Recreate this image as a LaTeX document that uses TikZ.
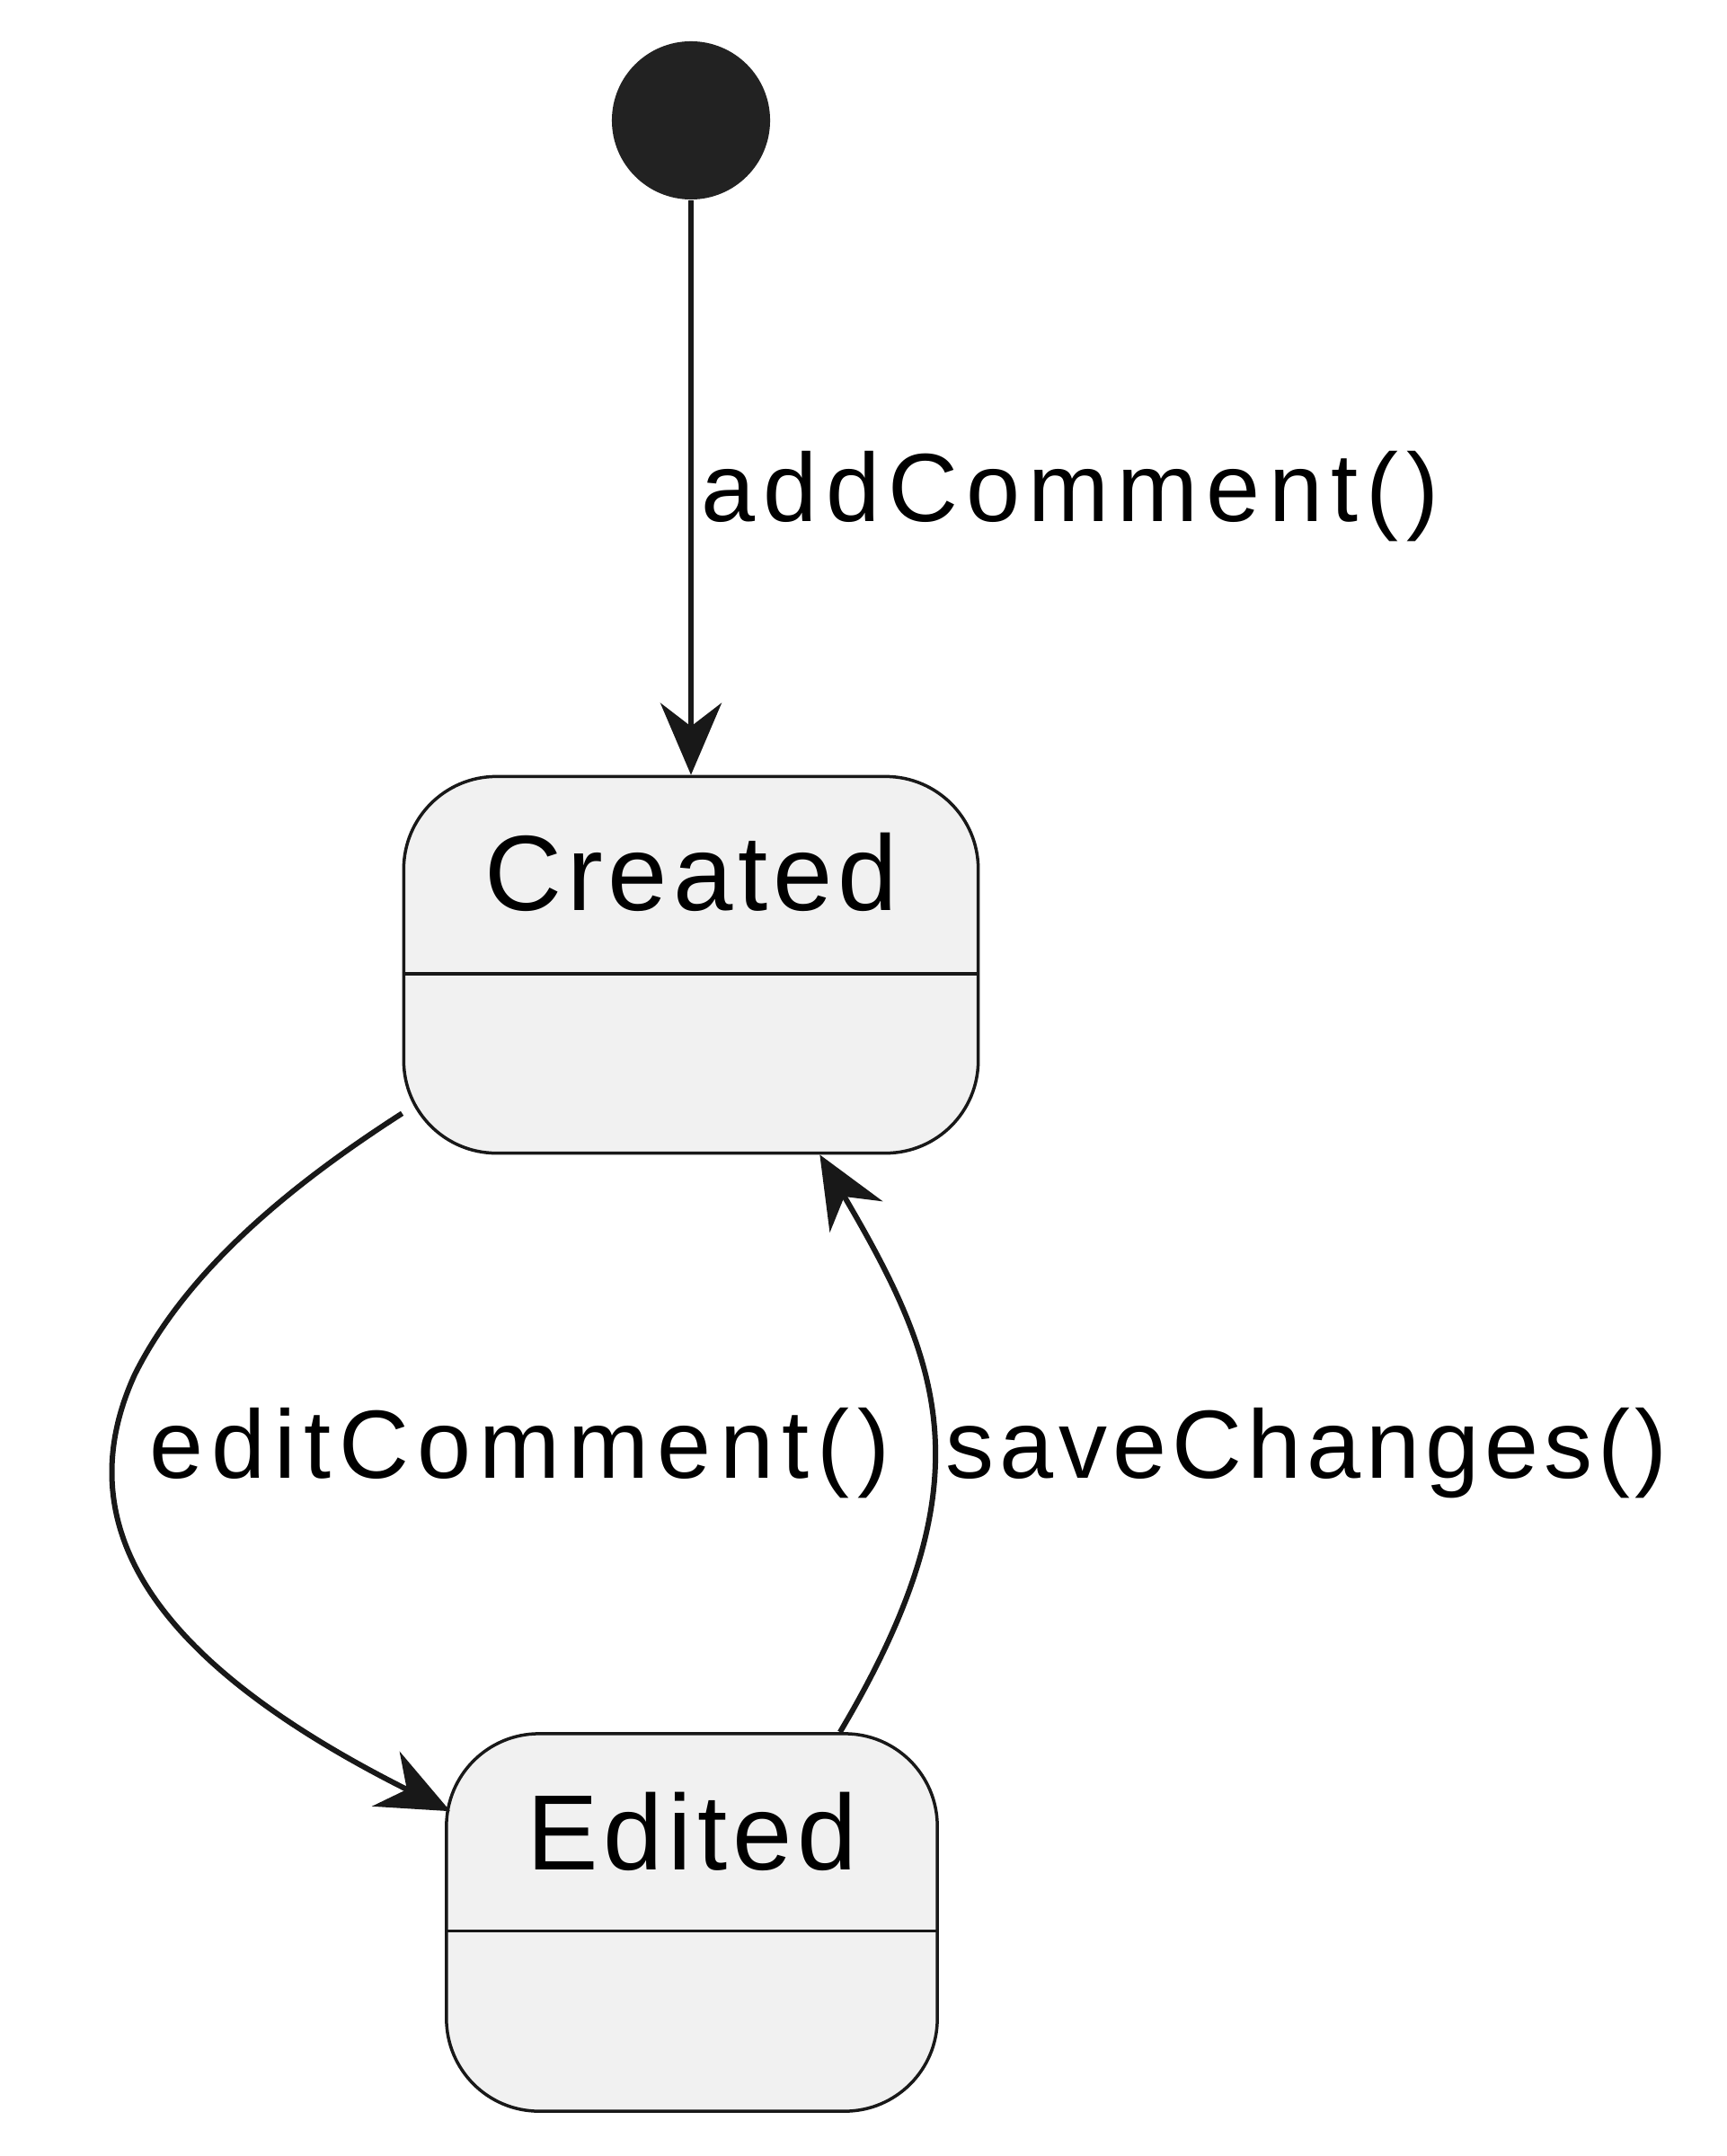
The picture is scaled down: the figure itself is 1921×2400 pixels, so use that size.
\documentclass[tikz,border=0pt]{standalone}
\usepackage{fontspec}
\setmainfont{Liberation Sans}
\newfontfamily\statefont[LetterSpace=5]{Liberation Sans}
\newfontfamily\edgefont[LetterSpace=8.5]{Liberation Sans}
\newfontfamily\edgefontnarrow[LetterSpace=5.5]{Liberation Sans}
\usetikzlibrary{arrows.meta,calc}
\definecolor{inkdark}{HTML}{181818}
\definecolor{startdot}{HTML}{222222}
\definecolor{statefill}{HTML}{F1F1F1}

\begin{document}
\begin{tikzpicture}[x=0.01cm,y=-0.01cm,line join=round,
  state/.style={draw=inkdark,fill=statefill,line width=0.035cm,rounded corners=1.03cm,
    minimum width=6.39cm,minimum height=4.19cm,inner sep=0pt},
  statename/.style={anchor=base,inner sep=0pt,font=\statefont\fontsize{33.9pt}{40pt}\selectfont},
  edgelabel/.style={anchor=base west,inner sep=0pt,font=\edgefont\fontsize{30.7pt}{36pt}\selectfont},
  edge/.style={draw=inkdark,line width=0.06cm,-{Stealth[length=0.8cm,width=0.68cm,inset=0.26cm]}}]
  \useasboundingbox (0,0) rectangle (1921,2400);
  % states
  \node[circle,fill=startdot,minimum size=1.76cm,inner sep=0pt] (start) at (769,134) {};
  \node[state] (created) at (769,1074) {};
  \node[state,minimum width=5.46cm,minimum height=4.2cm] (edited) at (770,2140) {};
  \foreach \s in {created,edited}
    \draw[inkdark,line width=0.035cm] ([yshift=-2.21cm]\s.north west) -- ([yshift=-2.21cm]\s.north east);
  \node[statename] (createdname) at ([yshift=-1.51cm]created.north) {Created};
  \node[statename] (editedname) at ([yshift=-1.53cm]edited.north) {Edited};
  % transitions
  \draw[edge] (start) -- (created);
  \draw[edge] ([yshift=0.46cm]created.south west) .. controls (330,1315) and (210,1410) .. (150,1530)
    .. controls (70,1705) and (180,1855) .. ([xshift=0.06cm,yshift=-0.88cm]edited.north west);
  \draw[edge] ([xshift=-1.1cm]edited.north east) .. controls (1100,1650) and (1050,1520) .. ([xshift=-1.78cm]created.south east);
  \node[edgelabel] (addlabel) at (780,580) {addComment()};
  \node[edgelabel] (editlabel) at (166,1645) {editComment()};
  \node[edgelabel,font=\edgefontnarrow\fontsize{30.7pt}{36pt}\selectfont] (savelabel) at (1052,1645) {saveChanges()};
\end{tikzpicture}
\end{document}
